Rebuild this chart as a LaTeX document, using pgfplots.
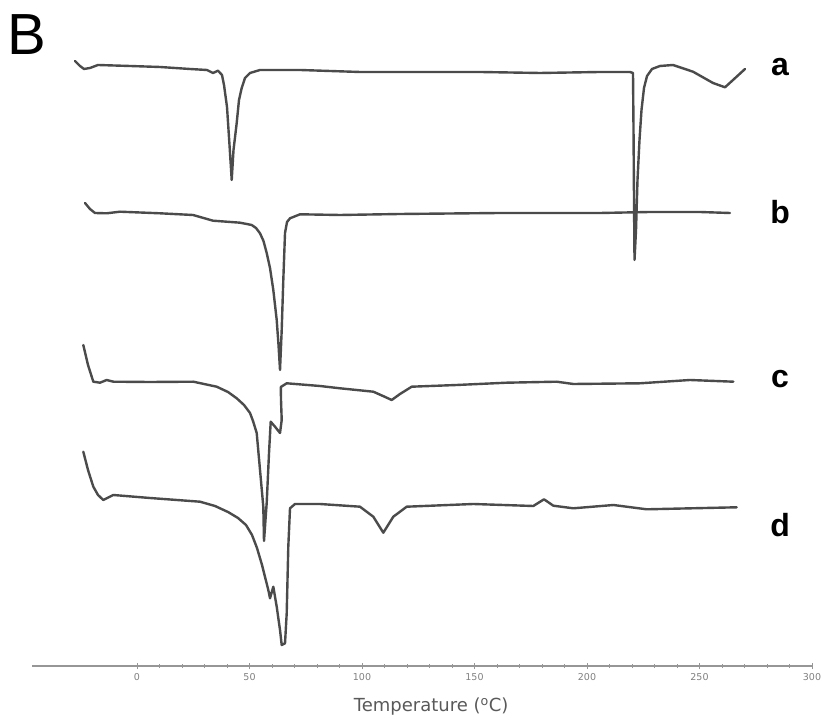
\documentclass[border=0pt]{standalone}
\usepackage{fontspec}
\setmainfont{DejaVu Sans}
\newfontfamily\arial{Liberation Sans}
\usepackage{pgfplots}
\pgfplotsset{compat=1.18}
\definecolor{trace}{RGB}{75,75,75}
\definecolor{axgray}{RGB}{150,150,150}

\begin{document}
\begin{tikzpicture}
\useasboundingbox (-32pt,-56pt) rectangle (794pt,666pt);
\begin{axis}[
    at={(0pt,0pt)}, anchor=south west,
    scale only axis, width=780pt, height=666pt,
    xmin=-46.67, xmax=300, ymin=0, ymax=666,
    axis x line=bottom, axis y line=none,
    axis line style={-, axgray, line width=1.6pt},
    xtick={0,50,...,300}, minor x tick num=4,
    ytick=\empty,
    tick align=center, major tick length=6pt, minor tick length=4pt,
    tick style={axgray, line width=1pt},
    /pgf/number format/assume math mode=true,
    xticklabel style={font=\fontsize{9.5}{10}\selectfont, text=gray, yshift=-1pt},
    clip=false,
    dsc/.style={trace, no markers, line width=2.4pt, line join=round, line cap=round},
]
% a
\addplot[dsc] coordinates {
(-27.56,605) (-25.33,600) (-23.56,597) (-20.89,598) (-17.33,601) (-3.11,600)
(10.22,599) (23.56,597) (31.11,596) (33.78,593) (36.0,595.3) (37.78,591)
(38.67,581) (40.0,559) (41.11,521) (42.09,486) (42.89,516) (44.31,543)
(45.33,566) (46.53,578) (48.0,588) (50.22,593) (54.67,596) (72.44,596)
(99.11,594) (125.78,594) (152.44,594) (179.11,593) (205.78,594) (219.11,594)
(220.44,593) (220.67,536) (220.89,466) (221.11,406) (221.78,436) (222.44,486)
(223.33,526) (224.22,556) (225.33,578) (226.67,590) (228.89,597) (232.44,600)
(238.22,601) (247.11,594.3) (256.0,583) (261.33,578.7) (264.89,586) (270.22,597)
};
% b
\addplot[dsc] coordinates {
(-23.11,463) (-20.89,457) (-18.67,453) (-13.47,452.7) (-7.56,454.3) (10.22,452.7)
(24.89,451) (33.78,445.3) (45.78,443.3) (50.98,441) (52.89,438) (54.67,432.7)
(56.22,425) (57.64,413) (59.11,398) (60.58,376) (62.09,346) (62.89,321)
(63.56,296) (64.31,336) (65.02,386) (65.78,433) (66.67,444) (68.0,447.7)
(72.44,451.7) (90.22,451) (116.89,452) (161.33,453) (205.78,453) (228.0,454)
(250.22,454) (263.56,453)
};
% c
\addplot[dsc] coordinates {
(-23.87,321) (-21.78,301) (-19.42,284.3) (-16.44,283.3) (-13.47,286) (-10.53,284.3)
(5.78,284) (25.02,284.3) (35.42,279.3) (40.44,274) (44.31,267.7) (47.56,261)
(50.22,253) (51.56,245) (53.2,233)
(54.67,196) (56.13,159.3) (56.44,125) (57.64,163) (58.67,213) (59.42,244.3)
(61.33,239.3) (63.56,233) (64.31,246) (64.0,266) (63.91,279) (66.53,282.7)
(81.33,280) (90.22,277.7) (105.02,274.3) (109.33,270) (113.2,266) (116.89,272)
(122.09,279.3) (142.09,281) (164.31,283.3) (186.53,284.3) (193.91,282) (223.56,282.7)
(245.78,286) (265.02,284.3)
};
% d
\addplot[dsc] coordinates {
(-23.87,214.3) (-21.78,196) (-19.42,179.3) (-17.33,171) (-14.98,166) (-10.53,171)
(5.78,168) (28.0,164.3) (34.67,160) (40.44,154) (44.89,148) (48.44,141)
(51.11,131) (53.33,118) (55.56,101)
(58.36,76) (59.11,67.7) (60.58,79.3) (62.09,59.3) (63.56,36) (64.31,21)
(65.78,22.7) (66.53,52.7) (67.24,119.3) (68.0,157.7) (70.22,162) (81.33,162)
(99.11,159.3) (105.02,149.3) (109.47,133.3) (113.91,149.3) (119.87,159.3) (149.47,162)
(176.13,160) (180.89,166.7) (185.02,160.3) (193.91,157.7) (211.73,161) (226.53,156.7)
(266.53,158.7)
};
\node[anchor=base, font=\arial\bfseries\fontsize{32}{34}\selectfont] at (axis cs:285.8,590) {a};
\node[anchor=base, font=\arial\bfseries\fontsize{32}{34}\selectfont] at (axis cs:285.8,442) {b};
\node[anchor=base, font=\arial\bfseries\fontsize{32}{34}\selectfont] at (axis cs:285.8,278) {c};
\node[anchor=base, font=\arial\bfseries\fontsize{32}{34}\selectfont] at (axis cs:285.8,129) {d};
\node[anchor=base west, inner sep=0pt, font=\arial\fontsize{58}{60}\selectfont] at (axis cs:-57.6,611) {B};
\node[font=\fontsize{18}{20}\selectfont, text=black!65] at (axis cs:130.7,-41) {Temperature (\textsuperscript{o}C)};
\end{axis}
\end{tikzpicture}
\end{document}
